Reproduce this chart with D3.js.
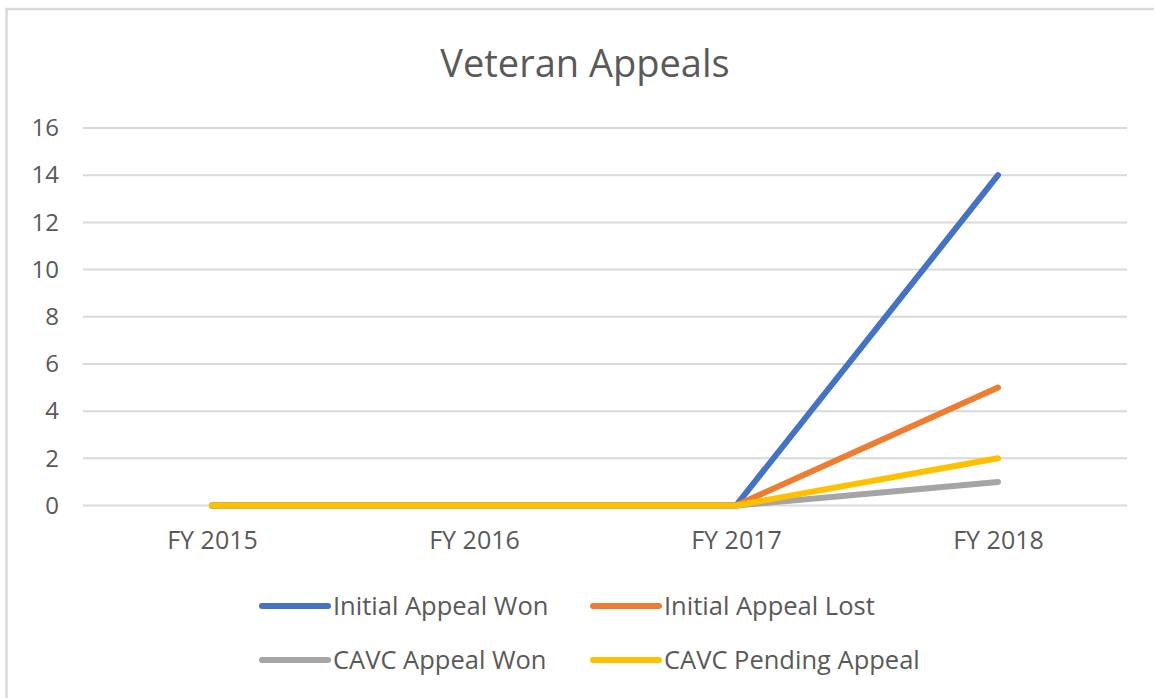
<!DOCTYPE html>
<html>
<head>
<meta charset="utf-8">
<script src="https://cdn.jsdelivr.net/npm/d3@7"></script>
<style>
  body { margin: 0; background: #fff; }
  text { font-family: "Open Sans", sans-serif; fill: #595959; }
</style>
</head>
<body>
<div id="chart"></div>
<script>
// chart data
var years = ["FY 2015", "FY 2016", "FY 2017", "FY 2018"]
var seriesNames = ["Initial Appeal Won", "Initial Appeal Lost", "CAVC Appeal Won", "CAVC Pending Appeal"]
var seriesColors = ["#4472C4", "#ED7D31", "#A5A5A5", "#FFC000"]
var initialWon = [0, 0, 0, 14]
var initialLost = [0, 0, 0, 5]
var cavcWon = [0, 0, 0, 1]
var cavcPending = [0, 0, 0, 2]
var yTicks = [0, 2, 4, 6, 8, 10, 12, 14, 16]

var allValues = [initialWon, initialLost, cavcWon, cavcPending]

var width = 1154, height = 698

var svg = d3.select("#chart")
    .append("svg")
    .attr("width", width)
    .attr("height", height)

// outer frame (cut off at right and bottom, like the screenshot)
svg.append("rect")
    .attr("x", 6.5)
    .attr("y", 9)
    .attr("width", width + 20)
    .attr("height", height + 20)
    .attr("fill", "none")
    .attr("stroke", "#d9d9d9")
    .attr("stroke-width", 2.5)

svg.append("text")
    .attr("x", 585)
    .attr("y", 77)
    .attr("text-anchor", "middle")
    .style("font-size", "38px")
    .text("Veteran Appeals")

var x = d3.scalePoint()
    .domain(years)
    .range([212, 998])

var y = d3.scaleLinear()
    .domain([0, 16])
    .range([505.5, 128])

// gridlines
svg.append("g")
    .selectAll("line")
    .data(yTicks)
    .enter()
    .append("line")
    .attr("x1", 83)
    .attr("x2", 1127)
    .attr("y1", function (d) { return y(d) })
    .attr("y2", function (d) { return y(d) })
    .attr("stroke", "#d9d9d9")
    .attr("stroke-width", 2)

// y axis labels
var yAxis = d3.axisLeft(y)
    .tickValues(yTicks)
    .tickSize(0)
    .tickPadding(0)
var yg = svg.append("g")
    .attr("transform", "translate(59,0)")
    .call(yAxis)
yg.select(".domain").remove()
yg.selectAll("text")
    .style("font-size", "24px")
    .style("font-family", "Open Sans")
    .attr("fill", "#595959")

// x axis labels
var xAxis = d3.axisBottom(x).tickSize(0).tickPadding(0)
var xg = svg.append("g")
    .attr("transform", "translate(0,531)")
    .call(xAxis)
xg.select(".domain").remove()
xg.selectAll("text")
    .style("font-size", "25px")
    .style("font-family", "Open Sans")
    .attr("fill", "#595959")

// series lines
var line = d3.line()
    .x(function (d, i) { return x(years[i]) })
    .y(function (d) { return y(d) })

svg.append("g")
    .selectAll("path")
    .data(allValues)
    .enter()
    .append("path")
    .attr("d", function (d) { return line(d) })
    .attr("fill", "none")
    .attr("stroke", function (d, i) { return seriesColors[i] })
    .attr("stroke-width", 6)
    .attr("stroke-linecap", "round")
    .attr("stroke-linejoin", "round")

// legend: 2 x 2
var legendX = [262, 593]
var legendY = [606, 660]
var legend = svg.append("g")
    .selectAll("g")
    .data(seriesNames)
    .enter()
    .append("g")
    .attr("transform", function (d, i) {
        return "translate(" + legendX[i % 2] + "," + legendY[Math.floor(i / 2)] + ")"
    })

legend.append("line")
    .attr("x1", 0)
    .attr("x2", 66)
    .attr("y1", 0)
    .attr("y2", 0)
    .attr("stroke", function (d, i) { return seriesColors[i] })
    .attr("stroke-width", 6)
    .attr("stroke-linecap", "round")

legend.append("text")
    .attr("x", 71)
    .attr("y", 0)
    .attr("dy", "0.35em")
    .style("font-size", "25.5px")
    .text(function (d) { return d })
</script>
</body>
</html>
